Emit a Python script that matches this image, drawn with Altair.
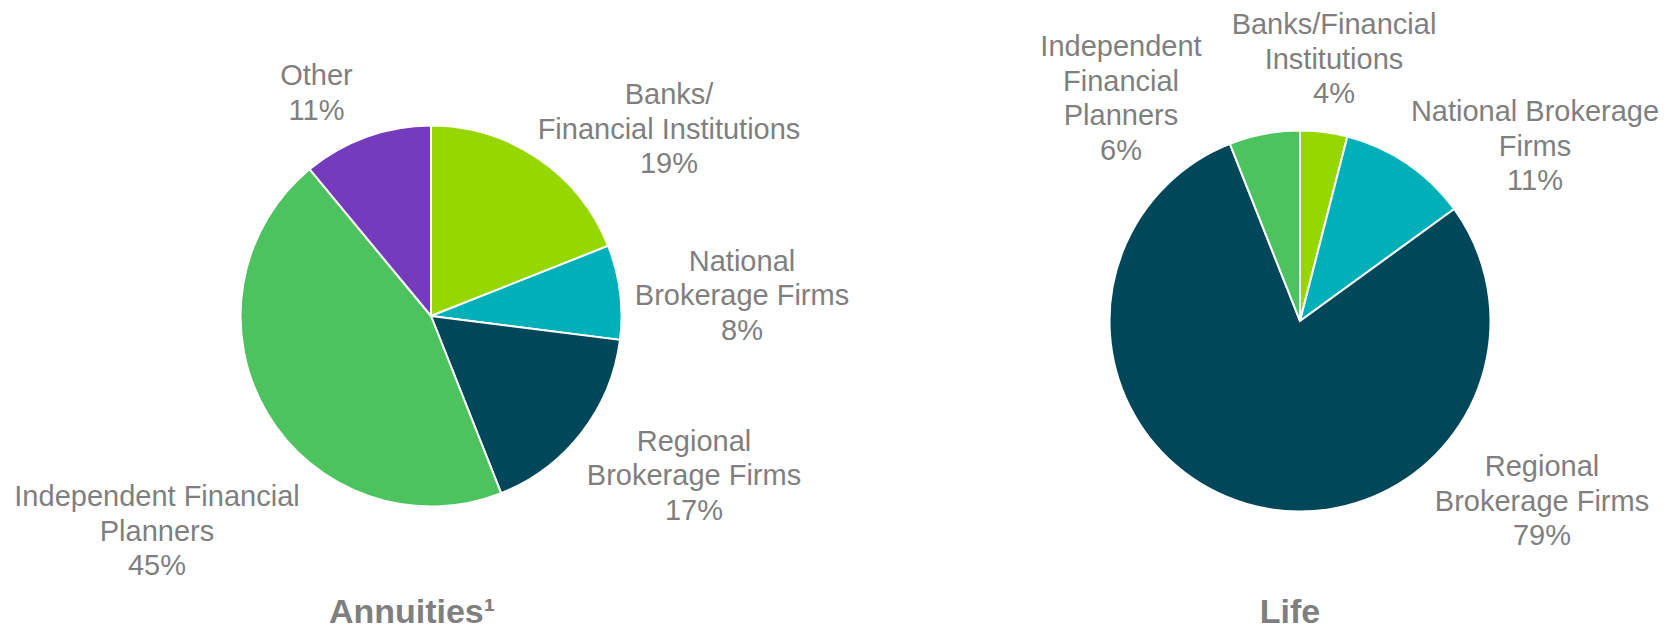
import altair as alt
import pandas as pd

# ---- data ----
categories = ["Banks/Financial Institutions", "National Brokerage Firms",
              "Regional Brokerage Firms", "Independent Financial Planners", "Other"]
annuities_values = [19, 8, 17, 45, 11]
life_categories = ["Banks/Financial Institutions", "National Brokerage Firms",
                   "Regional Brokerage Firms", "Independent Financial Planners"]
life_values = [4, 11, 79, 6]
colors = ["#97D700", "#00B0B9", "#004759", "#4CC35E", "#753BBD"]

annuities_labels = ["Banks/\nFinancial Institutions", "National\nBrokerage Firms",
                    "Regional\nBrokerage Firms", "Independent Financial\nPlanners", "Other"]
life_labels = ["Banks/Financial\nInstitutions", "National Brokerage\nFirms",
               "Regional\nBrokerage Firms", "Independent\nFinancial\nPlanners"]
titles = ["Annuities\u00b9", "Life"]

# ---- layout (pixels in the chart area; first text line centre) ----
W, H = 1655, 615
pie_centers = [(423, 308), (1292, 313)]
pie_radius = 190.5
annuities_label_pos = [(661, 87.3), (734, 253.5), (686, 433.5), (149, 489), (308.5, 68)]
life_label_pos = [(1326, 17), (1527, 104.3), (1534, 459.2), (1113, 39.3)]
title_pos = [(404, 615), (1282, 615)]

TEXT = "#7F7F7F"
FONT = "Liberation Sans"

color_scale = alt.Scale(domain=categories, range=colors)


def pie(cats, vals, center):
    df = pd.DataFrame({"category": cats, "value": vals, "order": list(range(len(cats)))})
    return alt.Chart(df).mark_arc(radius=pie_radius, stroke="white", strokeWidth=2).encode(
        theta=alt.Theta("value:Q", stack=True),
        order=alt.Order("order:Q"),
        color=alt.Color("category:N", scale=color_scale, legend=None),
        x=alt.value(center[0]),
        y=alt.value(center[1]),
    )


def labels(names, vals, pos):
    df = pd.DataFrame({
        "label": [f"{n}\n{v}%" for n, v in zip(names, vals)],
        "px": [p[0] for p in pos],
        "py": [p[1] for p in pos],
    })
    return alt.Chart(df).mark_text(
        font=FONT, fontSize=29, color=TEXT, align="center", baseline="middle",
        lineBreak="\n", lineHeight=34.5,
    ).encode(
        x=alt.X("px:Q", scale=None, axis=None),
        y=alt.Y("py:Q", scale=None, axis=None),
        text="label:N",
    )


title_df = pd.DataFrame({"t": titles, "px": [p[0] for p in title_pos], "py": [p[1] for p in title_pos]})
title_layer = alt.Chart(title_df).mark_text(
    font=FONT, fontSize=34, fontWeight="bold", color=TEXT, align="center", baseline="alphabetic",
).encode(
    x=alt.X("px:Q", scale=None, axis=None),
    y=alt.Y("py:Q", scale=None, axis=None),
    text="t:N",
)

chart = alt.layer(
    pie(categories, annuities_values, pie_centers[0]),
    pie(life_categories, life_values, pie_centers[1]),
    labels(annuities_labels, annuities_values, annuities_label_pos),
    labels(life_labels, life_values, life_label_pos),
    title_layer,
).resolve_scale(theta="independent").properties(
    width=W, height=H, autosize=alt.AutoSizeParams(type="none"), padding=0,
    background="white",
).configure_view(stroke=None)

chart.save("out.html", embed_options={"renderer": "svg", "actions": False})
